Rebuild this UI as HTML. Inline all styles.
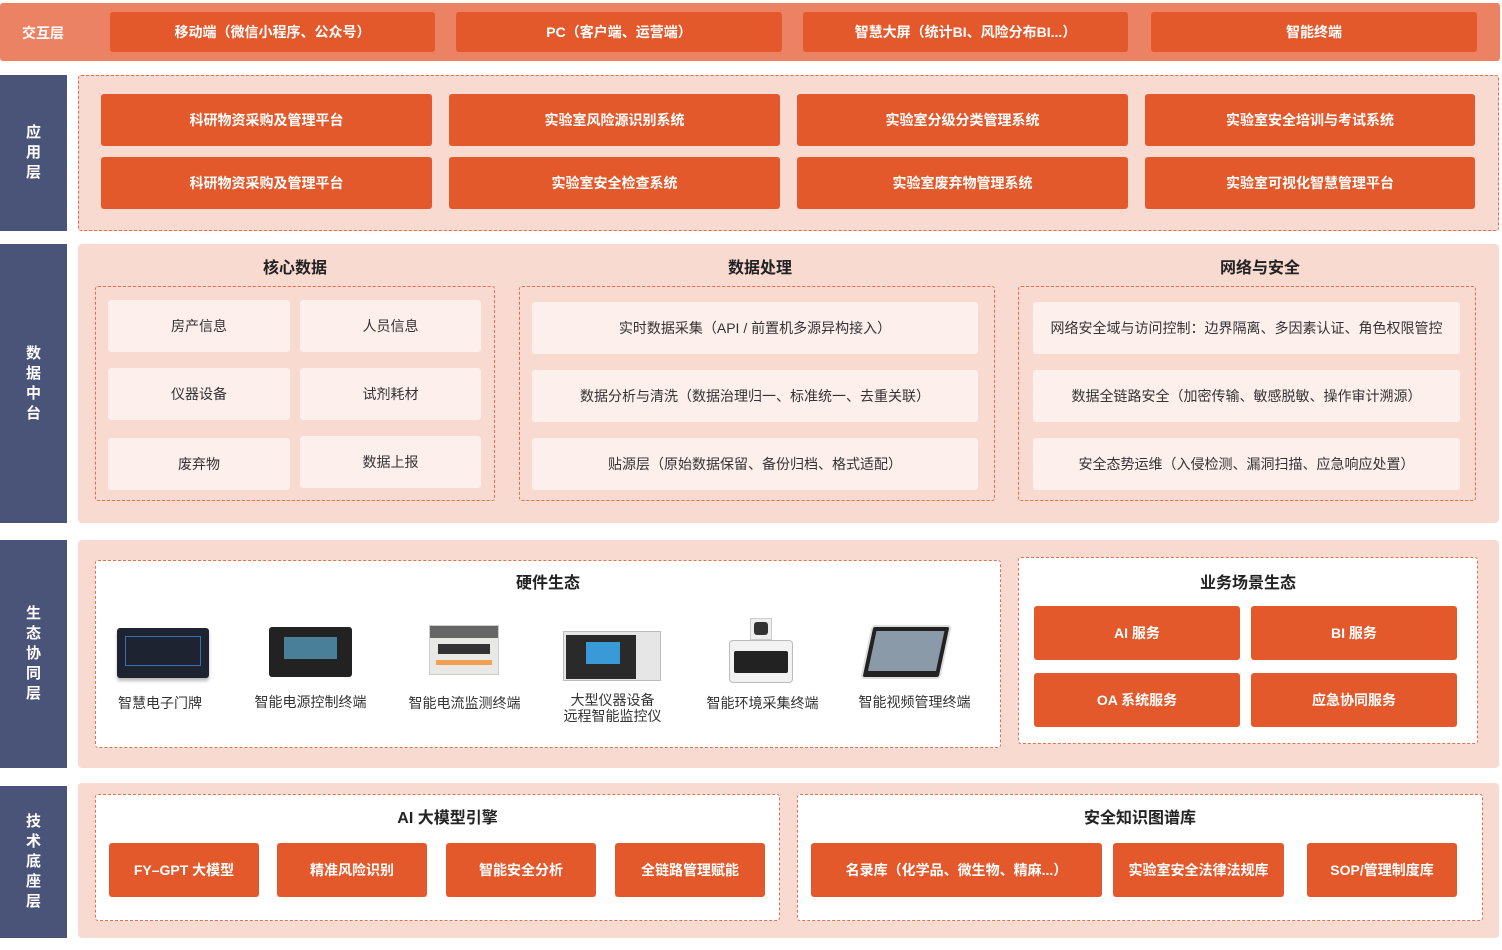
<!DOCTYPE html>
<html><head><meta charset="utf-8"><style>
*{margin:0;padding:0;box-sizing:border-box}
body{width:1502px;height:950px;background:#fff;position:relative;overflow:hidden;font-family:"Liberation Sans","Noto Sans CJK SC",sans-serif}
.a{position:absolute}
.btn{position:absolute;background:#E4592C;color:#fff;font-weight:bold;font-size:14px;display:flex;align-items:center;justify-content:center;border-radius:3px}
.nav{position:absolute;left:0;width:67px;background:#4A5479;color:#fff;font-weight:bold;font-size:15px;display:flex;align-items:center;justify-content:center;text-align:center;line-height:20px}
.pink{position:absolute;left:78px;width:1421px;background:#F8DAD1;border-radius:4px}
.dash{position:absolute;border:1.5px dashed #EE6A48;border-radius:3px}
.cell{position:absolute;background:#FCEFEC;color:#333;font-size:14px;display:flex;align-items:center;justify-content:center;border-radius:3px}
.t{position:absolute;font-weight:bold;font-size:16px;color:#222;text-align:center}
.lab{position:absolute;font-size:14px;color:#333;text-align:center;line-height:16px}
</style></head><body>
<div class="a" style="left:0;top:3px;width:1500px;height:58px;background:#EC8264;border-radius:3px"></div>
<div class="a" style="left:22px;top:23px;color:#fff;font-weight:bold;font-size:14px">交互层</div>
<div class="btn" style="left:110px;top:12px;width:325px;height:40px">移动端（微信小程序、公众号）</div>
<div class="btn" style="left:456px;top:12px;width:326px;height:40px">PC（客户端、运营端）</div>
<div class="btn" style="left:803px;top:12px;width:325px;height:40px">智慧大屏（统计BI、风险分布BI...）</div>
<div class="btn" style="left:1151px;top:12px;width:326px;height:40px">智能终端</div>

<div class="nav" style="top:75px;height:156px">应<br>用<br>层</div>
<div class="pink dash" style="top:75px;height:156px;border-radius:3px"></div>
<div class="btn" style="left:101px;top:94px;width:331px;height:52px">科研物资采购及管理平台</div>
<div class="btn" style="left:449px;top:94px;width:331px;height:52px">实验室风险源识别系统</div>
<div class="btn" style="left:797px;top:94px;width:331px;height:52px">实验室分级分类管理系统</div>
<div class="btn" style="left:1145px;top:94px;width:330px;height:52px">实验室安全培训与考试系统</div>
<div class="btn" style="left:101px;top:157px;width:331px;height:52px">科研物资采购及管理平台</div>
<div class="btn" style="left:449px;top:157px;width:331px;height:52px">实验室安全检查系统</div>
<div class="btn" style="left:797px;top:157px;width:331px;height:52px">实验室废弃物管理系统</div>
<div class="btn" style="left:1145px;top:157px;width:330px;height:52px">实验室可视化智慧管理平台</div>

<div class="nav" style="top:244px;height:279px">数<br>据<br>中<br>台</div>
<div class="pink" style="top:244px;height:279px"></div>
<div class="t" style="left:95px;width:400px;top:254px">核心数据</div>
<div class="t" style="left:522px;width:476px;top:254px">数据处理</div>
<div class="t" style="left:1030px;width:460px;top:254px">网络与安全</div>
<div class="dash" style="left:95px;top:286px;width:400px;height:215px"></div>
<div class="dash" style="left:519px;top:286px;width:476px;height:215px"></div>
<div class="dash" style="left:1018px;top:286px;width:458px;height:215px"></div>
<div class="cell" style="left:108px;top:300px;width:182px;height:52px">房产信息</div>
<div class="cell" style="left:300px;top:300px;width:181px;height:52px">人员信息</div>
<div class="cell" style="left:108px;top:368px;width:182px;height:52px">仪器设备</div>
<div class="cell" style="left:300px;top:368px;width:181px;height:52px">试剂耗材</div>
<div class="cell" style="left:108px;top:438px;width:182px;height:52px">废弃物</div>
<div class="cell" style="left:300px;top:436px;width:181px;height:52px">数据上报</div>
<div class="cell" style="left:532px;top:302px;width:446px;height:52px">实时数据采集（API / 前置机多源异构接入）</div>
<div class="cell" style="left:532px;top:370px;width:446px;height:52px">数据分析与清洗（数据治理归一、标准统一、去重关联）</div>
<div class="cell" style="left:532px;top:438px;width:446px;height:52px">贴源层（原始数据保留、备份归档、格式适配）</div>
<div class="cell" style="left:1033px;top:302px;width:427px;height:52px">网络安全域与访问控制：边界隔离、多因素认证、角色权限管控</div>
<div class="cell" style="left:1033px;top:370px;width:427px;height:52px">数据全链路安全（加密传输、敏感脱敏、操作审计溯源）</div>
<div class="cell" style="left:1033px;top:438px;width:427px;height:52px">安全态势运维（入侵检测、漏洞扫描、应急响应处置）</div>

<div class="nav" style="top:540px;height:228px">生<br>态<br>协<br>同<br>层</div>
<div class="pink" style="top:540px;height:228px"></div>
<div class="dash" style="left:95px;top:560px;width:906px;height:188px;background:#fff"></div>
<div class="t" style="left:95px;width:906px;top:569px">硬件生态</div>
<div class="a" style="left:117px;top:628px;width:92px;height:50px;background:#1d2330;border-radius:3px;box-shadow:0 3px 3px #bbb"><div style="margin:8px;height:30px;border:1px solid #3a6fb0"></div></div>
<div class="a" style="left:269px;top:627px;width:83px;height:50px;background:#222;border-radius:3px"><div style="margin:10px 15px;height:22px;background:#4a7f9a"></div></div>
<div class="a" style="left:429px;top:625px;width:70px;height:50px;background:#e8e8e4;border:1px solid #ccc"><div style="height:12px;background:#666"></div><div style="margin:6px 8px;height:10px;background:#333"></div><div style="margin:4px 6px;height:5px;background:#f0a050"></div></div>
<div class="a" style="left:563px;top:631px;width:98px;height:50px;background:#e6e6e6;border:1px solid #bbb"><div style="position:absolute;left:2px;top:3px;width:70px;height:44px;background:#2a2a2a"></div><div style="position:absolute;left:22px;top:10px;width:34px;height:22px;background:#3a9ad8"></div></div>
<div class="a" style="left:729px;top:640px;width:64px;height:43px;background:#f2f2f2;border:1px solid #bbb;border-radius:4px"><div style="margin:10px 4px;height:22px;background:#222;border-radius:2px"></div></div>
<div class="a" style="left:750px;top:618px;width:22px;height:22px;background:#eee;border:1px solid #ccc"><div style="margin:3px;height:13px;background:#333;border-radius:3px"></div></div>
<div class="a" style="left:866px;top:625px;width:80px;height:54px;background:#222;border-radius:4px;transform:skewX(-12deg);border:2px solid #ddd"><div style="margin:4px;height:40px;background:#8a9aa8"></div></div>
<div class="lab" style="left:100px;width:120px;top:695px">智慧电子门牌</div>
<div class="lab" style="left:248px;width:125px;top:694px">智能电源控制终端</div>
<div class="lab" style="left:402px;width:125px;top:695px">智能电流监测终端</div>
<div class="lab" style="left:550px;width:125px;top:692px">大型仪器设备<br>远程智能监控仪</div>
<div class="lab" style="left:700px;width:125px;top:695px">智能环境采集终端</div>
<div class="lab" style="left:852px;width:125px;top:694px">智能视频管理终端</div>

<div class="dash" style="left:1018px;top:557px;width:460px;height:187px;background:#fff"></div>
<div class="t" style="left:1018px;width:460px;top:569px">业务场景生态</div>
<div class="btn" style="left:1034px;top:606px;width:206px;height:54px">AI 服务</div>
<div class="btn" style="left:1251px;top:606px;width:206px;height:54px">BI 服务</div>
<div class="btn" style="left:1034px;top:673px;width:206px;height:54px">OA 系统服务</div>
<div class="btn" style="left:1251px;top:673px;width:206px;height:54px">应急协同服务</div>

<div class="nav" style="top:786px;height:152px">技<br>术<br>底<br>座<br>层</div>
<div class="pink" style="top:783px;height:155px"></div>
<div class="dash" style="left:95px;top:794px;width:685px;height:127px;background:#fff"></div>
<div class="dash" style="left:797px;top:794px;width:686px;height:127px;background:#fff"></div>
<div class="t" style="left:95px;width:705px;top:804px">AI 大模型引擎</div>
<div class="t" style="left:797px;width:686px;top:804px">安全知识图谱库</div>
<div class="btn" style="left:109px;top:843px;width:150px;height:54px">FY–GPT 大模型</div>
<div class="btn" style="left:277px;top:843px;width:150px;height:54px">精准风险识别</div>
<div class="btn" style="left:446px;top:843px;width:150px;height:54px">智能安全分析</div>
<div class="btn" style="left:615px;top:843px;width:150px;height:54px">全链路管理赋能</div>
<div class="btn" style="left:811px;top:843px;width:291px;height:54px">名录库（化学品、微生物、精麻...）</div>
<div class="btn" style="left:1113px;top:843px;width:171px;height:54px">实验室安全法律法规库</div>
<div class="btn" style="left:1307px;top:843px;width:150px;height:54px">SOP/管理制度库</div>
</body></html>
